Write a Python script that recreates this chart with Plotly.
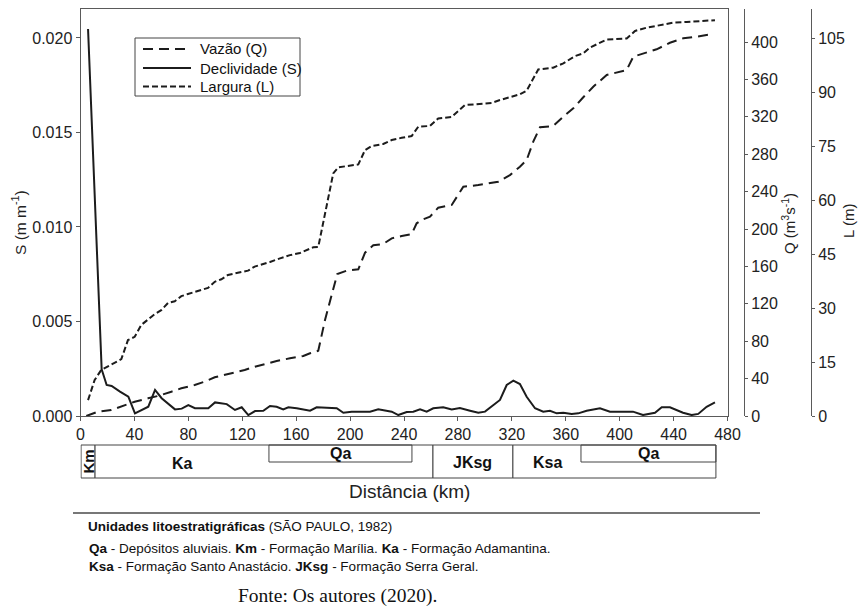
import plotly.graph_objects as go

# ---- series: distance along the river (km) and measured values ----
km_q = [4.3, 13.0, 22.8, 32.8, 40.2, 50.1, 57.5, 67.4, 74.8, 84.7, 92.1, 99.6, 107.0, 114.4,
        121.8, 129.2, 135.6, 145.5, 155.4, 165.3, 170.3, 176.4, 181.4, 186.4, 190.5, 197.5,
        206.1, 211.1, 217.2, 224.6, 230.9, 238.3, 245.7, 249.4, 254.3, 259.3, 265.4, 275.4,
        284.0, 295.1, 309.9, 318.6, 326.0, 331.0, 335.9, 340.9, 350.7, 358.2, 365.6, 373.0,
        380.4, 390.4, 405.2, 410.1, 420.0, 427.4, 437.3, 447.2, 457.1, 469.4]
vazao_q = [0, 4.6, 6.4, 11.8, 15.3, 18.9, 21.4, 26.0, 29.6, 33.2, 36.7, 41.4, 43.8, 46.3,
           49.2, 52.7, 55.3, 58.8, 61.7, 64.2, 67.1, 69.8, 102.7, 131.2, 151.9, 155.4,
           156.9, 174.7, 182.6, 184.0, 190.0, 192.5, 194.6, 206.1, 210.4, 213.2, 222.8, 225.7,
           245.2, 247.0, 250.6, 257.7, 266.6, 273.8, 293.4, 308.8, 310.2, 320.1, 329.1, 340.9,
           352.2, 364.7, 370.0, 384.3, 388.6, 392.2, 399.2, 404.0, 405.7, 408.6]

km_s = [5.6, 15.7, 19.4, 23.1, 29.3, 35.5, 40.4, 50.3, 55.3, 60.2, 70.1, 75.1, 80.0, 84.9,
        94.8, 99.8, 108.5, 114.6, 119.6, 124.5, 129.5, 135.6, 140.6, 145.5, 150.4, 154.2,
        160.4, 170.3, 175.2, 190.1, 195.0, 201.2, 214.8, 220.9, 230.9, 235.8, 242.0, 246.9,
        251.9, 256.8, 261.7, 269.1, 275.4, 281.5, 289.0, 295.1, 300.1, 306.2, 311.2, 316.2,
        321.1, 326.0, 331.0, 337.2, 343.3, 348.3, 353.3, 358.2, 364.4, 369.3, 375.5, 385.4,
        392.8, 409.9, 417.3, 426.2, 431.2, 437.3, 447.0, 453.4, 458.3, 464.5, 470.7]
declividade_s = [0.02047, 0.00247, 0.00164, 0.00159, 0.00129, 0.00102, 0.00014, 0.00049,
                 0.00138, 0.00094, 0.00035, 0.00039, 0.00058, 0.00041, 0.00041, 0.00072,
                 0.00063, 0.00032, 0.00046, 0.00005, 0.00026, 0.00028, 0.00053, 0.00049,
                 0.00035, 0.00046, 0.00041, 0.00028, 0.00046, 0.00041, 0.00017, 0.00023,
                 0.00023, 0.00035, 0.00023, 0.00005, 0.00021, 0.00023, 0.00035, 0.00023,
                 0.00041, 0.00046, 0.00035, 0.00042, 0.00028, 0.00017, 0.00023, 0.00058,
                 0.00085, 0.00164, 0.00187, 0.00169, 0.00102, 0.00041, 0.00023, 0.00028,
                 0.00014, 0.00017, 0.00011, 0.00014, 0.00028, 0.00041, 0.00023, 0.00023,
                 0.00005, 0.00017, 0.00046, 0.00046, 0.00017, 0.00005, 0.00011, 0.00049,
                 0.00072]

km_l = [5.6, 10.5, 15.4, 22.8, 30.3, 35.2, 40.2, 45.1, 50.1, 55.0, 59.9, 64.9, 69.9, 74.8,
        79.7, 84.7, 89.6, 94.6, 99.6, 104.5, 109.4, 114.4, 119.3, 124.3, 129.2, 133.2, 140.6,
        148.0, 155.4, 162.8, 167.8, 172.7, 176.4, 182.6, 187.5, 191.2, 197.5, 206.1, 211.1,
        216.0, 224.6, 230.9, 238.3, 245.7, 250.6, 259.3, 265.4, 275.4, 285.2, 295.1, 305.0,
        311.2, 318.6, 326.0, 331.0, 339.6, 350.7, 358.2, 366.8, 373.0, 378.0, 381.7, 390.4,
        405.2, 411.4, 420.0, 429.9, 439.8, 449.7, 459.6, 470.7]
largura_l = [4.4, 10.0, 12.8, 14.2, 15.8, 21.1, 22.0, 25.3, 26.7, 28.3, 29.4, 31.4, 31.9,
             33.3, 33.9, 34.5, 35.0, 35.6, 37.3, 38.0, 39.2, 39.6, 39.9, 40.4, 41.5, 41.9,
             42.8, 43.8, 44.7, 45.3, 46.1, 46.9, 47.0, 58.1, 67.4, 69.1, 69.4, 69.9, 73.9,
             75.0, 75.6, 76.7, 77.3, 77.8, 80.4, 80.6, 82.7, 83.1, 86.4, 86.6, 87.0, 87.8,
             88.5, 89.4, 90.4, 96.3, 96.8, 98.0, 100.0, 100.8, 102.4, 103.1, 104.6, 104.9,
             107.0, 107.9, 108.6, 109.3, 109.5, 109.7, 110.0]

# ---- lithostratigraphic units along the profile (km) ----
unit_names = ["Km", "Ka", "JKsg", "Ksa"]
unit_start = [0.4, 10.8, 261.5, 320.8]
unit_end = [10.8, 261.5, 320.8, 471.4]
qa_start = [139.8, 371.3]
qa_end = [245.9, 471.4]

x_ticks = list(range(0, 481, 40))
s_ticks = [0.0, 0.005, 0.010, 0.015, 0.020]
q_ticks = list(range(0, 401, 40))
l_ticks = list(range(0, 106, 15))

series_names = ["Vazão (Q)", "Declividade (S)", "Largura (L)"]
series_dash = ["10px,6px", "solid", "6px,3px"]

FONT = "Liberation Sans, Arial, sans-serif"
INK = "#1c1c1c"
AX = "#5a5a5a"

# page geometry (pixels) -> paper fractions
W, H = 858, 616
ML, MR, MT, MB = 80, 40, 9, 0
PW, PH = W - ML - MR, H - MT - MB


def px(xp):
    return (xp - ML) / PW


def py(yp):
    return (H - MB - yp) / PH


fig = go.Figure()

fig.add_trace(go.Scatter(x=km_q, y=vazao_q, name=series_names[0], yaxis="y2", mode="lines",
                         line=dict(color=INK, width=2, dash=series_dash[0])))
fig.add_trace(go.Scatter(x=km_s, y=declividade_s, name=series_names[1], yaxis="y", mode="lines",
                         line=dict(color=INK, width=2, dash=series_dash[1])))
fig.add_trace(go.Scatter(x=km_l, y=largura_l, name=series_names[2], yaxis="y3", mode="lines",
                         line=dict(color=INK, width=2, dash=series_dash[2])))

x_dom = [px(80.5), px(727.5)]
y_dom = [py(416), 1.0]
tickfont = dict(family=FONT, size=16, color="#222")

fig.update_layout(
    width=W, height=H,
    margin=dict(l=ML, r=MR, t=MT, b=MB, autoexpand=False),
    paper_bgcolor="white", plot_bgcolor="white",
    showlegend=False,
    xaxis=dict(domain=x_dom, range=[0, 480], tickvals=x_ticks, ticks="outside", ticklen=4,
               tickcolor=AX, showline=True, linecolor=AX, linewidth=1, mirror=True,
               showgrid=False, zeroline=False, tickfont=tickfont),
    yaxis=dict(domain=y_dom, range=[0, 0.02153], tickvals=s_ticks, tickformat=".3f",
               ticks="outside", ticklen=4, tickcolor=AX, showline=True, linecolor=AX,
               linewidth=1, mirror=True, showgrid=False, zeroline=False, tickfont=tickfont),
    yaxis2=dict(domain=y_dom, range=[0, 435.3], tickvals=q_ticks, overlaying="y",
                anchor="free", position=px(744), side="right", ticks="outside", ticklen=3,
                tickcolor=AX, showline=True, linecolor=AX, linewidth=1, showgrid=False,
                zeroline=False, tickfont=tickfont),
    yaxis3=dict(domain=y_dom, range=[0, 113.1], tickvals=l_ticks, overlaying="y",
                anchor="free", position=px(811), side="right", ticks="outside", ticklen=3,
                tickcolor=AX, showline=True, linecolor=AX, linewidth=1, showgrid=False,
                zeroline=False, tickfont=tickfont),
)


def note(text, x, y, size, xref="paper", angle=0, xanchor="center", bold_font=FONT,
         color="#222"):
    fig.add_annotation(text=text, x=x, y=y, xref=xref, yref="paper", textangle=angle,
                       xanchor=xanchor, yanchor="middle", showarrow=False,
                       font=dict(family=bold_font, size=size, color=color))


# legend box with line samples
fig.add_shape(type="rect", xref="paper", yref="paper", x0=px(135), x1=px(300), y0=py(96),
              y1=py(38), line=dict(color="#444", width=1), fillcolor="white", layer="above")
for name, dash, row_y in zip(series_names, series_dash, [49, 68, 86.5]):
    fig.add_shape(type="line", xref="paper", yref="paper", x0=px(143), x1=px(191),
                  y0=py(row_y), y1=py(row_y), line=dict(color=INK, width=2, dash=dash),
                  layer="above")
    note(name, px(198), py(row_y), 15, xanchor="left", color="#111")

# axis titles
note("S (m m<sup>-1</sup>)", px(19), py(222), 15.5, angle=-90)
note("Q (m<sup>3</sup>s<sup>-1</sup>)", px(788), py(224), 15, angle=-90)
note("L (m)", px(848), py(221), 15, angle=-90)

# geology strip under the profile
strip_top, strip_bot, qa_bot = py(445), py(478), py(462)
for s, e in zip(unit_start, unit_end):
    fig.add_shape(type="rect", xref="x", yref="paper", x0=s, x1=e, y0=strip_bot, y1=strip_top,
                  line=dict(color="#444", width=1), fillcolor="white", layer="above")
for s, e in zip(qa_start, qa_end):
    fig.add_shape(type="rect", xref="x", yref="paper", x0=s, x1=e, y0=qa_bot, y1=strip_top,
                  line=dict(color="#444", width=1), fillcolor="rgba(0,0,0,0)", layer="above")

label_px = {"Ka": (182, 463), "JKsg": (473, 462), "Ksa": (547, 462)}
for name, s, e in zip(unit_names, unit_start, unit_end):
    if name == "Km":
        note("<b>Km</b>", (s + e) / 2, py(461.5), 15, xref="x", angle=-90, color="#111")
    else:
        lx, ly = label_px[name]
        note(f"<b>{name}</b>", px(lx), py(ly), 16, color="#111")
for s, e in zip(qa_start, qa_end):
    note("<b>Qa</b>", (s + e) / 2, py(453.5), 16, xref="x", color="#111")

note("Distância (km)", px(409), py(492), 19)

# separator and caption
fig.add_shape(type="line", xref="paper", yref="paper", x0=px(73), x1=px(760), y0=py(513),
              y1=py(513), line=dict(color="#777", width=2))
note("<b>Unidades litoestratigráficas</b> (SÃO PAULO, 1982)", px(86), py(526), 13.5,
     xanchor="left", color="#111")
note("<b>Qa</b> - Depósitos aluviais. <b>Km</b> - Formação Marília. "
     "<b>Ka</b> - Formação Adamantina.", px(87), py(548), 13.5, xanchor="left", color="#111")
note("<b>Ksa</b> - Formação Santo Anastácio. <b>JKsg</b> - Formação Serra Geral.",
     px(87), py(566), 13.5, xanchor="left", color="#111")
note("Fonte: Os autores (2020).", px(337), py(596), 19.5,
     bold_font="Liberation Serif, Times New Roman, serif", color="#111")

fig.write_html("out.html")
